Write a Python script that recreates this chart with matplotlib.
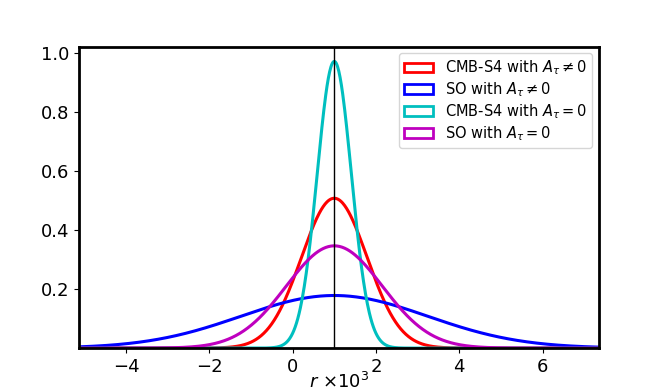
import numpy as np
import matplotlib
matplotlib.use("Agg")
import matplotlib.pyplot as plt
from matplotlib.patches import Patch

# Data: posterior curves for r (x 10^3)
labels = [r"CMB-S4 with $A_\tau \neq 0$", r"SO with $A_\tau \neq 0$",
          r"CMB-S4 with $A_\tau = 0$", r"SO with $A_\tau = 0$"]
colors = ["r", "b", "c", "m"]
centers = [1.0, 1.0, 1.0, 1.0]
peaks = [0.507, 0.178, 0.970, 0.346]
widths = [0.787, 2.24, 0.411, 1.153]
fiducial_r = 1.0
x_ticks = [-4, -2, 0, 2, 4, 6]
y_ticks = [0.2, 0.4, 0.6, 0.8, 1.0]

fig = plt.figure(figsize=(6.58, 3.92), dpi=100)
ax = fig.add_axes([0.12, 0.112, 0.79, 0.769])

x = np.linspace(-5.15, 7.35, 800)
for c, p, w, col in zip(centers, peaks, widths, colors):
    ax.plot(x, p * np.exp(-0.5 * ((x - c) / w) ** 2), color=col, lw=2.2)

ax.axvline(fiducial_r, color="k", lw=1)

ax.set_xlim(-5.13, 7.35)
ax.set_ylim(0.0, 1.02)
ax.set_xticks(x_ticks)
ax.set_yticks(y_ticks)
ax.tick_params(labelsize=13)
for s in ax.spines.values():
    s.set_linewidth(2)
ax.set_xlabel(r"$r$ $\times 10^3$", fontsize=13, labelpad=-2.5)

handles = [Patch(facecolor="none", edgecolor=col, lw=2, label=lab)
           for col, lab in zip(colors, labels)]
ax.legend(handles=handles, loc="upper right", fontsize=10.5,
          borderaxespad=0.45, handlelength=2.0, labelspacing=0.22,
          handleheight=0.6, borderpad=0.35)

fig.savefig("out.png", dpi=100)
